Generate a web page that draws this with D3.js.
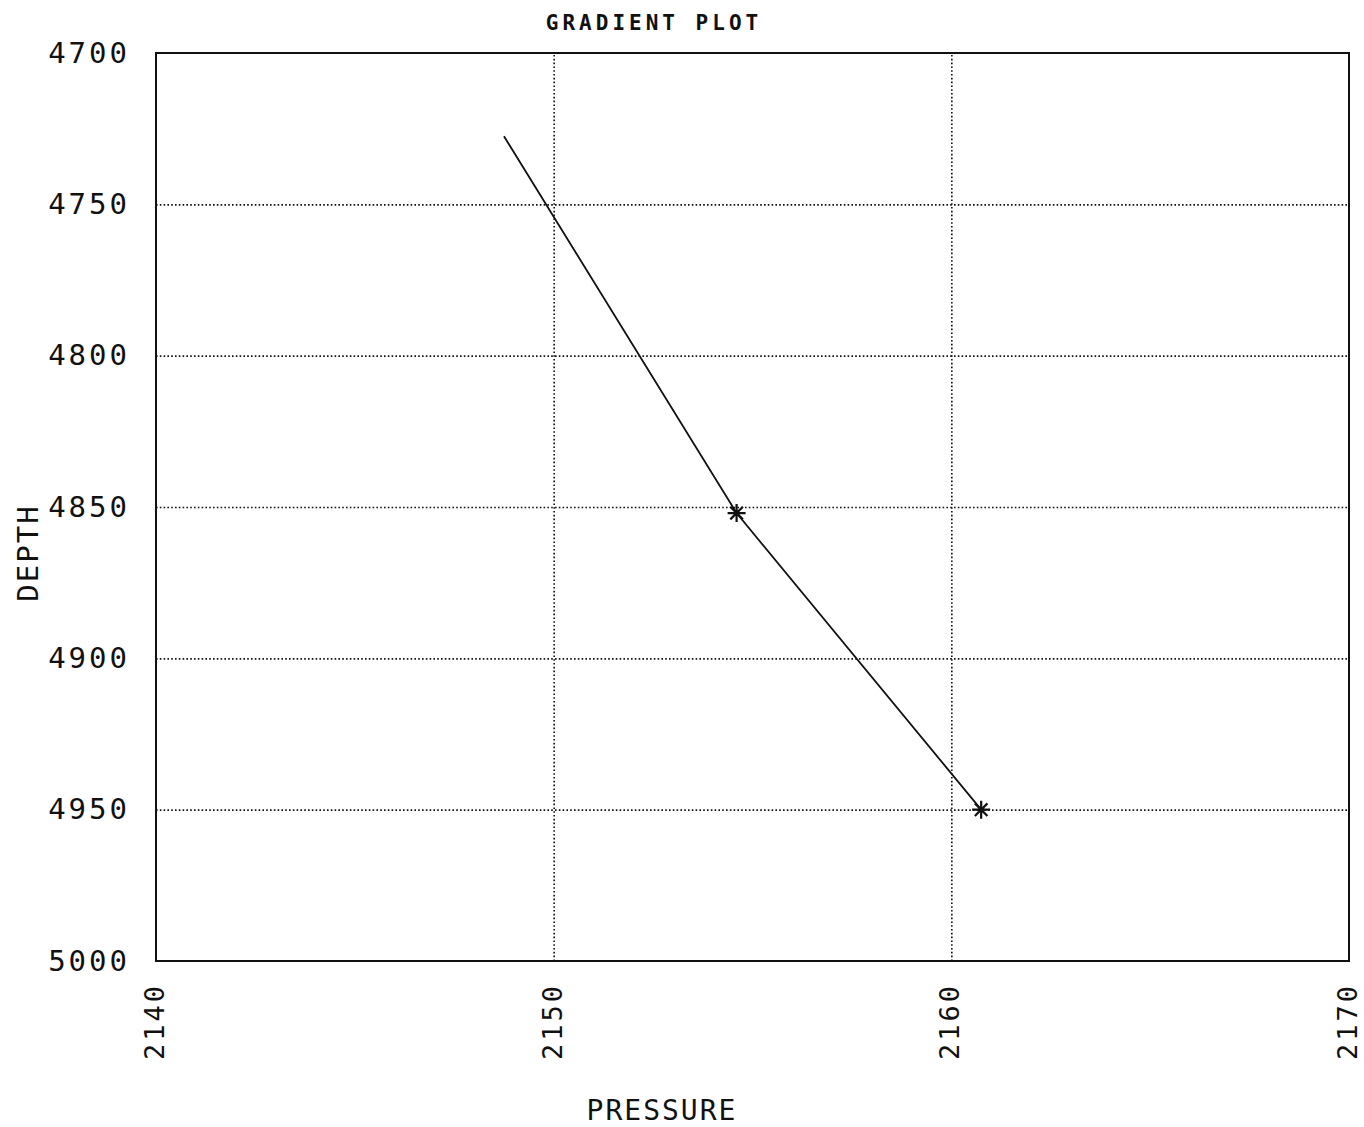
<!DOCTYPE html>
<html><head><meta charset="utf-8">
<script src="https://cdn.jsdelivr.net/npm/d3@7"></script>
<style>
body{margin:0;background:#fff;}
text{font-family:"DejaVu Sans Mono",monospace;fill:#111;}
</style></head>
<body><svg id="chart" width="1364" height="1127"></svg>
<script>
const xTicks = [2140, 2150, 2160, 2170];
const yTicks = [4700, 4750, 4800, 4850, 4900, 4950, 5000];
const linePressure = [2148.75, 2154.6, 2160.75];
const lineDepth = [4727.5, 4852, 4950];
const markPressure = [2154.6, 2160.75];
const markDepth = [4852, 4950];

const svg = d3.select("#chart");
const L = 156, R = 1349, T = 53, B = 961;
const x = d3.scaleLinear().domain([2140, 2170]).range([L, R]);
const y = d3.scaleLinear().domain([4700, 5000]).range([T, B]);

// grid
const gx = svg.append("g").attr("transform", `translate(0,${B})`)
  .call(d3.axisBottom(x).tickValues(xTicks.slice(1, -1)).tickSize(-(B - T)).tickFormat(""));
const gy = svg.append("g").attr("transform", `translate(${L},0)`)
  .call(d3.axisLeft(y).tickValues(yTicks.slice(1, -1)).tickSize(-(R - L)).tickFormat(""));
[gx, gy].forEach(g => {
  g.select(".domain").remove();
  g.selectAll("line").attr("stroke", "#111").attr("stroke-width", 1.6).attr("stroke-dasharray", "1.6,2.2");
});

// frame
svg.append("rect").attr("x", L).attr("y", T).attr("width", R - L).attr("height", B - T)
  .attr("fill", "none").attr("stroke", "#111").attr("stroke-width", 2);

// y tick labels
const ya = svg.append("g").attr("transform", `translate(${L},0)`)
  .call(d3.axisLeft(y).tickValues(yTicks).tickFormat(d3.format("d")).tickSize(0).tickPadding(26));
ya.select(".domain").remove();
ya.selectAll("text").attr("font-size", 29).attr("letter-spacing", 3).attr("fill", "#111")
  .attr("font-family", "DejaVu Sans Mono");

// x tick labels (rotated)
const xa = svg.append("g").attr("transform", `translate(0,${B})`)
  .call(d3.axisBottom(x).tickValues(xTicks).tickFormat(d3.format("d")).tickSize(0));
xa.select(".domain").remove();
xa.selectAll("text")
  .attr("transform", "rotate(-90)")
  .attr("text-anchor", "end").attr("x", -22).attr("y", 0).attr("dy", "0.28em")
  .attr("font-size", 27).attr("letter-spacing", 3).attr("fill", "#111")
  .attr("font-family", "DejaVu Sans Mono");

// line
const pts = linePressure.map((p, i) => [p, lineDepth[i]]);
svg.append("path").datum(pts)
  .attr("d", d3.line().x(d => x(d[0])).y(d => y(d[1])))
  .attr("fill", "none").attr("stroke", "#111").attr("stroke-width", 1.8);

// markers
const s = 9;
const marks = svg.append("g").selectAll("g").data(markPressure.map((p, i) => [p, markDepth[i]]))
  .join("g").attr("transform", d => `translate(${x(d[0])},${y(d[1])})`);
marks.append("path")
  .attr("d", `M${-s},0H${s}M0,${-s}V${s}M${-s*0.7},${-s*0.7}L${s*0.7},${s*0.7}M${-s*0.7},${s*0.7}L${s*0.7},${-s*0.7}`)
  .attr("stroke", "#111").attr("stroke-width", 2.2).attr("fill", "none");

// titles
svg.append("text").attr("x", 654).attr("y", 30).attr("text-anchor", "middle")
  .attr("font-size", 21).attr("letter-spacing", 4).attr("font-weight", "bold").text("GRADIENT PLOT");
svg.append("text").attr("x", 662).attr("y", 1120).attr("text-anchor", "middle")
  .attr("font-size", 28).attr("letter-spacing", 2).text("PRESSURE");
svg.append("text").attr("transform", "translate(38,553) rotate(-90)").attr("text-anchor", "middle")
  .attr("font-size", 29).attr("letter-spacing", 2).text("DEPTH");
</script></body></html>
